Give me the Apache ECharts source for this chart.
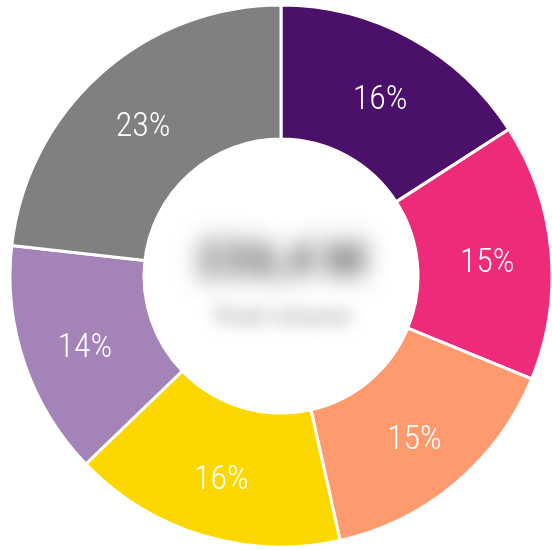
<!DOCTYPE html>
<html>
<head>
<meta charset="utf-8">
<script src="https://cdn.jsdelivr.net/npm/echarts@6/dist/echarts.min.js"></script>
<style>
  html, body { margin: 0; padding: 0; background: #fff; }
  #chart { width: 552px; height: 550px; }
</style>
</head>
<body>
<div id="chart"></div>
<script>
'use strict';

// slice shares, clockwise from 12 o'clock
const segments = ['A', 'B', 'C', 'D', 'E', 'F'];
const shares = [15.9, 15.3, 15.3, 16.3, 14.0, 23.2];
const colors = ['#4b106a', '#ee2a7b', '#ff9a6f', '#fdd800', '#a484b8', '#808080'];

// centre text (blurred in the source)
const centerTitle = '236,4 M';
const centerSub = 'Total volume';

(function () {
  const el = document.getElementById('chart');
  const chart = echarts.init(el, null, { renderer: 'canvas' });
  const cx = 281;
  const cy = 276;
  const off = 1000; // text drawn off-canvas, only its blurred shadow lands in the hole

  chart.setOption({
    animation: false,
    backgroundColor: '#fff',
    color: colors,
    series: [{
      type: 'pie',
      center: [cx, cy],
      radius: [137, 271],
      startAngle: 90,
      clockwise: true,
      itemStyle: { borderColor: '#fff', borderWidth: 3 },
      label: {
        show: true,
        position: 'inside',
        color: '#fff',
        fontSize: 34,
        fontFamily: "'Roboto Condensed', Roboto, sans-serif",
        fontWeight: 300,
        offset: [0, 6],
        formatter: (p) => `${Math.round(p.value)}%`,
      },
      labelLine: { show: false },
      emphasis: { disabled: true },
      data: segments.map((name, i) => ({ name, value: shares[i] })),
    }],
    graphic: [
      {
        type: 'text',
        x: cx - off,
        y: cy - 13,
        silent: true,
        style: {
          text: centerTitle,
          fill: '#444',
          fontSize: 46,
          fontWeight: 'bold',
          fontFamily: 'Roboto, sans-serif',
          align: 'center',
          verticalAlign: 'middle',
          textShadowColor: 'rgba(60,60,60,1)',
          textShadowBlur: 24,
          textShadowOffsetX: off,
        },
      },
      {
        type: 'text',
        x: cx - off,
        y: cy + 42,
        silent: true,
        style: {
          text: centerSub,
          fill: '#aaa',
          fontSize: 24,
          fontWeight: 'bold',
          fontFamily: 'Roboto, sans-serif',
          align: 'center',
          verticalAlign: 'middle',
          textShadowColor: 'rgba(170,170,170,1)',
          textShadowBlur: 16,
          textShadowOffsetX: off,
        },
      },
    ],
  });
})();
</script>
</body>
</html>
